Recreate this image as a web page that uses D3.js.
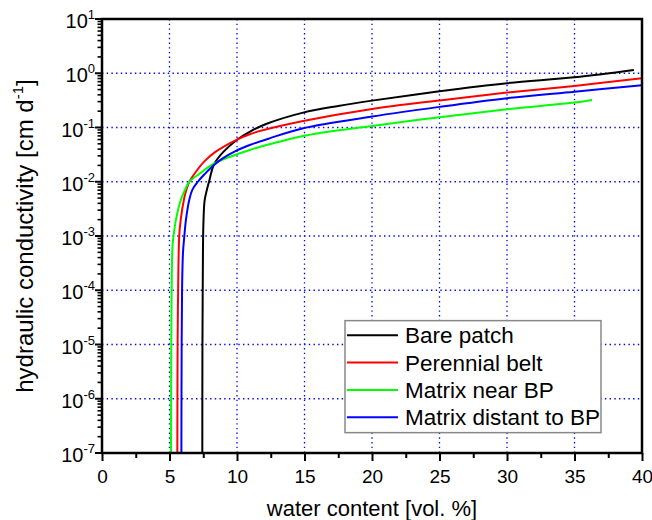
<!DOCTYPE html>
<html>
<head>
<meta charset="utf-8">
<script src="https://cdn.jsdelivr.net/npm/d3@7"></script>
<style>
  body { margin: 0; background: #fff; }
  text { font-family: "Liberation Sans", Arial, sans-serif; fill: #000; }
</style>
</head>
<body>
<div id="chart"></div>
<script>
// data: water content [vol. %] and K [cm/d]
const bareTheta = [7.43, 7.44, 7.46, 7.48, 7.52, 7.6, 7.76, 7.93, 8.3, 8.99, 9.98, 11.0, 12.2, 14.9, 17.5, 20.0, 25.0, 30.0, 35.0, 39.4];
const bareK = [1e-7, 1e-5, 1e-4, 6e-4, 0.002, 0.0045, 0.007, 0.010, 0.021, 0.0355, 0.059, 0.085, 0.117, 0.188, 0.25, 0.313, 0.465, 0.655, 0.843, 1.15];

const beltTheta = [5.58, 5.60, 5.64, 5.72, 5.83, 6.07, 6.25, 6.47, 7.0, 7.6, 8.4, 10.0, 11.0, 12.4, 14.9, 20.0, 25.0, 30.0, 35.0, 40.0];
const beltK = [1e-7, 1e-5, 1e-4, 0.001, 0.002, 0.0047, 0.0071, 0.010, 0.0158, 0.024, 0.0355, 0.060, 0.076, 0.0955, 0.132, 0.220, 0.316, 0.440, 0.583, 0.813];

const nearTheta = [5.11, 5.13, 5.16, 5.22, 5.3, 5.48, 5.85, 6.15, 6.47, 7.3, 8.25, 9.6, 11.0, 12.4, 14.9, 20.0, 25.0, 30.0, 35.0, 36.3];
const nearK = [1e-7, 1e-5, 1e-4, 6.3e-4, 0.001, 0.002, 0.0047, 0.0071, 0.010, 0.0145, 0.0214, 0.0295, 0.0389, 0.049, 0.070, 0.107, 0.155, 0.217, 0.288, 0.322];

const distTheta = [5.88, 5.9, 5.93, 6.0, 6.1, 6.22, 6.47, 6.69, 7.1, 7.6, 8.25, 9.0, 9.85, 11.0, 12.4, 14.9, 20.0, 25.0, 30.0, 35.0, 40.0];
const distK = [1e-7, 1e-5, 1e-4, 5e-4, 0.001, 0.002, 0.0047, 0.0071, 0.010, 0.0138, 0.020, 0.0275, 0.0363, 0.048, 0.063, 0.097, 0.159, 0.240, 0.347, 0.458, 0.603];

const seriesNames = ["Bare patch", "Perennial belt", "Matrix near BP", "Matrix distant to BP"];
const seriesColors = ["#000000", "#ff0000", "#00ff00", "#0000ff"];

const xTicks = [0, 5, 10, 15, 20, 25, 30, 35, 40];
const yExponents = [1, 0, -1, -2, -3, -4, -5, -6, -7];

const series = [
  { name: seriesNames[0], color: seriesColors[0], theta: bareTheta, k: bareK },
  { name: seriesNames[1], color: seriesColors[1], theta: beltTheta, k: beltK },
  { name: seriesNames[2], color: seriesColors[2], theta: nearTheta, k: nearK },
  { name: seriesNames[3], color: seriesColors[3], theta: distTheta, k: distK },
];

let dimensions = {
  width: 652,
  height: 520,
  margin: { top: 19, bottom: 67, left: 102, right: 10 },
};
dimensions.containerWidth = dimensions.width - dimensions.margin.left - dimensions.margin.right;
dimensions.containerHeight = dimensions.height - dimensions.margin.top - dimensions.margin.bottom;

const svg = d3.select("#chart").append("svg")
  .attr("width", dimensions.width)
  .attr("height", dimensions.height);

const container = svg.append("g")
  .attr("transform", `translate(${dimensions.margin.left}, ${dimensions.margin.top})`);

const xScale = d3.scaleLinear()
  .domain([0, 40])
  .range([0, dimensions.containerWidth]);

const yScale = d3.scaleLog()
  .domain([1e-7, 10])
  .range([dimensions.containerHeight, 0]);

// grid
const dash = "1.4,3.3";
container.append("g")
  .selectAll("line")
  .data(xTicks.filter(d => d > 0 && d < 40))
  .join("line")
  .attr("x1", d => xScale(d)).attr("x2", d => xScale(d))
  .attr("y1", 0).attr("y2", dimensions.containerHeight)
  .attr("stroke", "#0000ff").attr("stroke-width", 1.3)
  .attr("stroke-dasharray", dash);

container.append("g")
  .selectAll("line")
  .data(yExponents.filter(e => e < 1 && e > -7))
  .join("line")
  .attr("x1", 0).attr("x2", dimensions.containerWidth)
  .attr("y1", e => yScale(Math.pow(10, e))).attr("y2", e => yScale(Math.pow(10, e)))
  .attr("stroke", "#0000ff").attr("stroke-width", 1.3)
  .attr("stroke-dasharray", dash);

// curves
svg.append("clipPath").attr("id", "plotclip")
  .append("rect").attr("x", 0).attr("y", 0)
  .attr("width", dimensions.containerWidth).attr("height", dimensions.containerHeight);

const line = d3.line()
  .x(d => xScale(d[0]))
  .y(d => yScale(d[1]))
  .curve(d3.curveCatmullRom.alpha(0.5));

container.append("g")
  .attr("clip-path", "url(#plotclip)")
  .selectAll("path")
  .data(series)
  .join("path")
  .attr("fill", "none")
  .attr("stroke", d => d.color)
  .attr("stroke-width", 2)
  .attr("d", d => line(d.theta.map((t, i) => [t, d.k[i]])));

// Axes
const xAxis = d3.axisBottom(xScale)
  .tickValues(d3.range(0, 40.1, 2.5))
  .tickSize(0)
  .tickFormat("");

const xAxisGroup = container.append("g")
  .attr("transform", `translate(0, ${dimensions.containerHeight})`)
  .call(xAxis);
xAxisGroup.select(".domain").remove();
xAxisGroup.selectAll(".tick line")
  .attr("y2", d => (d % 5 === 0 ? 8 : 5))
  .attr("stroke", "#000").attr("stroke-width", 2);
xAxisGroup.selectAll(".tick")
  .filter(d => d % 5 === 0)
  .append("text")
  .attr("y", 30)
  .attr("text-anchor", "middle")
  .style("font-size", "19px")
  .text(d => d);

xAxisGroup.append("text")
  .attr("x", dimensions.containerWidth / 2)
  .attr("y", 63)
  .attr("text-anchor", "middle")
  .style("font-size", "22px")
  .text("water content [vol. %]");

// minor log ticks
const yMinor = [];
for (let e = -7; e < 1; e++) {
  for (let m = 2; m <= 9; m++) yMinor.push(m * Math.pow(10, e));
}

const yAxisGroup = container.append("g");
yAxisGroup.selectAll("line.minor")
  .data(yMinor)
  .join("line")
  .attr("class", "minor")
  .attr("x1", -4.5).attr("x2", 0)
  .attr("y1", d => yScale(d)).attr("y2", d => yScale(d))
  .attr("stroke", "#000").attr("stroke-width", 1.6);

yAxisGroup.selectAll("line.major")
  .data(yExponents)
  .join("line")
  .attr("class", "major")
  .attr("x1", -7).attr("x2", 0)
  .attr("y1", e => yScale(Math.pow(10, e))).attr("y2", e => yScale(Math.pow(10, e)))
  .attr("stroke", "#000").attr("stroke-width", 2);

const yLabels = yAxisGroup.selectAll("text.tick")
  .data(yExponents)
  .join("text")
  .attr("class", "tick")
  .attr("x", -7)
  .attr("y", e => yScale(Math.pow(10, e)) + 9)
  .attr("text-anchor", "end")
  .style("font-size", "20px");
yLabels.append("tspan").text("10");
yLabels.append("tspan")
  .attr("dy", -9)
  .style("font-size", "13px")
  .text(e => (e < 0 ? "-" + Math.abs(e) : e));

const yTitle = container.append("text")
  .attr("transform", `translate(${-69}, ${dimensions.containerHeight / 2}) rotate(-90)`)
  .attr("text-anchor", "middle")
  .style("font-size", "24px");
yTitle.append("tspan").text("hydraulic conductivity [cm d");
yTitle.append("tspan").attr("dy", -10).style("font-size", "15px").text("-1");
yTitle.append("tspan").attr("dy", 10).text("]");

// frame
container.append("rect")
  .attr("x", 0).attr("y", 0)
  .attr("width", dimensions.containerWidth)
  .attr("height", dimensions.containerHeight)
  .attr("fill", "none")
  .attr("stroke", "#000")
  .attr("stroke-width", 2.5);

// legend
const legend = container.append("g")
  .attr("transform", `translate(${xScale(18)}, ${yScale(Math.pow(10, -4.56))})`);

legend.append("rect")
  .attr("width", 256).attr("height", 112)
  .attr("fill", "#fff")
  .attr("stroke", "#888").attr("stroke-width", 1.5);

const legendRows = legend.selectAll("g")
  .data(series)
  .join("g")
  .attr("transform", (d, i) => `translate(0, ${14.5 + i * 27.4})`);

legendRows.append("line")
  .attr("x1", 2).attr("x2", 53)
  .attr("stroke", d => d.color).attr("stroke-width", 2);

legendRows.append("text")
  .attr("x", 60)
  .attr("y", 8)
  .style("font-size", "22.5px")
  .text(d => d.name);
</script>
</body>
</html>
